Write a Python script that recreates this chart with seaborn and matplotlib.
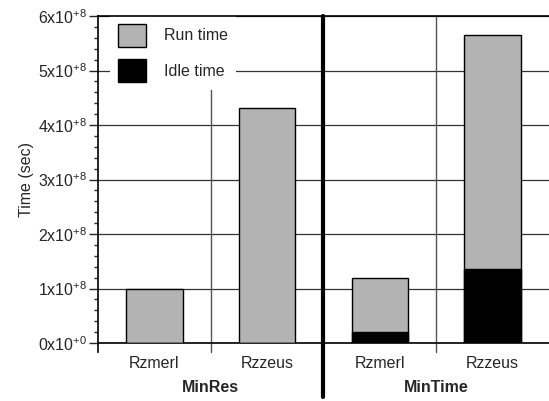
import matplotlib
matplotlib.use('Agg')
import matplotlib.pyplot as plt
import matplotlib.transforms as mtransforms
from matplotlib.patches import Patch
from matplotlib.ticker import FixedLocator, MultipleLocator
import seaborn as sns
import pandas as pd

# data
keys = ['MinRes-Rzmerl', 'MinRes-Rzzeus', 'MinTime-Rzmerl', 'MinTime-Rzzeus']
machines = ['Rzmerl', 'Rzzeus', 'Rzmerl', 'Rzzeus']
groups = ['MinRes', 'MinTime']
run_time = [1.00e8, 4.31e8, 0.99e8, 4.30e8]
idle_time = [0.0, 0.0, 0.21e8, 1.36e8]
yticks = [0, 1e8, 2e8, 3e8, 4e8, 5e8, 6e8]
ytick_labels = ['0x10$^{+0}$', '1x10$^{+8}$', '2x10$^{+8}$', '3x10$^{+8}$',
                '4x10$^{+8}$', '5x10$^{+8}$', '6x10$^{+8}$']

sns.set_style('white')
plt.rcParams['font.family'] = ['Liberation Sans', 'DejaVu Sans']
plt.rcParams['mathtext.fontset'] = 'custom'
plt.rcParams['mathtext.rm'] = 'Liberation Sans'
plt.rcParams['mathtext.default'] = 'regular'

fs = 11.5

df = pd.DataFrame({'key': keys, 'run': run_time, 'idle': idle_time})
df['total'] = df['run'] + df['idle']

fig = plt.figure(figsize=(5.49, 4.01), dpi=100)
ax = fig.add_axes([0.1785, 0.1446, 0.8215, 0.8154])

grey = '#b3b3b3'
sns.barplot(data=df, x='key', y='total', color=grey, saturation=1, width=0.5,
            edgecolor='black', linewidth=1, ax=ax, zorder=3)
sns.barplot(data=df, x='key', y='idle', color='black', saturation=1, width=0.5,
            edgecolor='black', linewidth=1, ax=ax, zorder=3)

ax.set_xlim(-0.5, 3.5)
ax.set_ylim(0, 6e8)
ax.yaxis.set_major_locator(FixedLocator(yticks))
ax.set_yticklabels(ytick_labels, fontsize=fs)
ax.yaxis.set_minor_locator(MultipleLocator(0.2e8))
ax.tick_params(axis='y', which='major', direction='out', length=6.5, width=1,
               left=True, pad=1)
ax.tick_params(axis='y', which='minor', direction='out', length=3, width=1, left=True)
ax.set_xticks(range(len(keys)))
ax.set_xticklabels(machines, fontsize=fs)
ax.tick_params(axis='x', length=0, pad=9)
ax.set_xlabel('')
ax.set_ylabel('Time (sec)', fontsize=fs, labelpad=3)

ax.grid(True, axis='y', color='#333333', linewidth=0.9)
ax.set_axisbelow(True)

for side in ['top', 'bottom', 'left']:
    ax.spines[side].set_color('black')
    ax.spines[side].set_linewidth(1.2)
ax.spines['right'].set_visible(False)
ax.spines['left'].set_bounds(-0.165e8, 6e8)

# separators between bars and groups
ax.axvline(0.5, ymin=-0.0275, ymax=1, color='#555555', lw=1, clip_on=False, zorder=2)
ax.axvline(2.5, ymin=-0.0275, ymax=1, color='#555555', lw=1, clip_on=False, zorder=2)
ax.axvline(1.5, ymin=-0.165, ymax=1, color='black', lw=3, clip_on=False, zorder=4)

trans = mtransforms.blended_transform_factory(ax.transData, ax.transAxes)
for i, g in enumerate(groups):
    ax.text(0.5 + 2 * i, -0.135, g, transform=trans, ha='center', va='center',
            fontsize=fs, fontweight='bold')

handles = [Patch(facecolor=grey, edgecolor='black', label='Run time'),
           Patch(facecolor='black', edgecolor='black', label='Idle time')]
leg = ax.legend(handles=handles, loc='upper left', bbox_to_anchor=(0.026, 1),
                borderaxespad=0, borderpad=0.5, handlelength=1.8, handleheight=1.8,
                labelspacing=0.8, handletextpad=1.1, fontsize=fs,
                frameon=True, fancybox=False, framealpha=1)
leg.get_frame().set_edgecolor('none')
leg.get_frame().set_facecolor('white')
leg.set_zorder(2.2)

fig.savefig('out.png', dpi=100)
